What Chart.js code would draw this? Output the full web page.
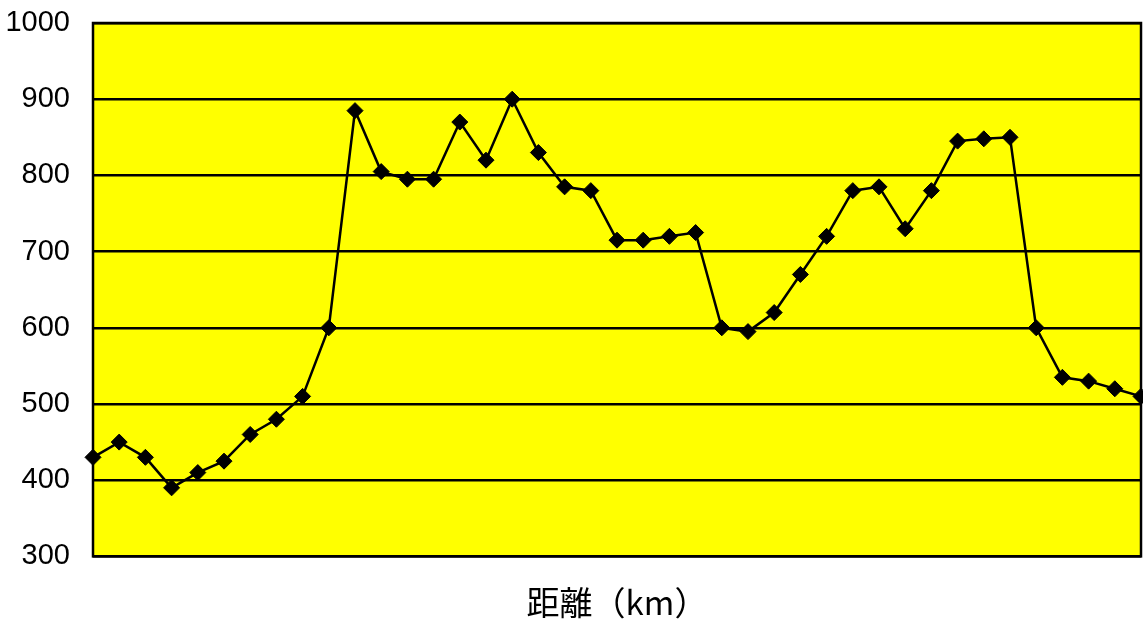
<!DOCTYPE html>
<html lang="ja">
<head>
<meta charset="UTF-8">
<title>距離（km）</title>
<script src="https://cdn.jsdelivr.net/npm/chart.js"></script>
<style>
  html, body { margin: 0; padding: 0; background: #fff; }
  #wrap { width: 1143px; height: 622px; }
</style>
</head>
<body>
<div id="wrap"><canvas id="elevChart" width="1143" height="622"></canvas></div>
<script>
// elevation profile, one value per point
const distLabels = ['0','1','2','3','4','5','6','7','8','9','10','11','12','13','14','15','16','17','18','19','20',
  '21','22','23','24','25','26','27','28','29','30','31','32','33','34','35','36','37','38','39','40'];
const elevation = [430, 450, 430, 390, 410, 425, 460, 480, 510, 600,
  885, 805, 795, 795, 870, 820, 900, 830, 785, 780,
  715, 715, 720, 725, 600, 595, 620, 670, 720, 780,
  785, 730, 780, 845, 848, 850, 600, 535, 530, 520, 510];
const yTicks = [300, 400, 500, 600, 700, 800, 900, 1000];

// yellow plot area + black frame
const plotFrame = {
  id: 'plotFrame',
  beforeDraw(chart) {
    const a = chart.chartArea, ctx = chart.ctx;
    ctx.save();
    ctx.fillStyle = '#ffff00';
    ctx.fillRect(a.left, a.top, a.right - a.left, a.bottom - a.top);
    ctx.restore();
  },
  afterDatasetsDraw(chart) {
    const a = chart.chartArea, ctx = chart.ctx;
    ctx.save();
    ctx.strokeStyle = '#000';
    ctx.lineWidth = 2.5;
    ctx.strokeRect(a.left, a.top, a.right - a.left, a.bottom - a.top);
    ctx.restore();
  }
};

new Chart(document.getElementById('elevChart'), {
  type: 'line',
  data: {
    labels: distLabels,
    datasets: [{
      data: elevation,
      borderColor: '#000',
      borderWidth: 2.5,
      backgroundColor: '#000',
      pointStyle: 'rectRot',
      pointRadius: 8,
      pointBorderWidth: 1,
      tension: 0,
      clip: false
    }]
  },
  options: {
    responsive: false,
    animation: false,
    layout: { autoPadding: false, padding: { top: 23, right: 2, left: 0, bottom: 0 } },
    plugins: { legend: { display: false }, tooltip: { enabled: false } },
    scales: {
      x: {
        offset: false,
        grid: { display: false, drawTicks: false },
        border: { display: false },
        ticks: { display: false },
        title: {
          display: true,
          text: '距離（km）',
          color: '#000',
          font: { family: "'Noto Sans CJK JP', sans-serif", size: 33 },
          padding: { top: 26, bottom: 0 }
        }
      },
      y: {
        min: 300,
        max: 1000,
        afterBuildTicks(scale) { scale.ticks = yTicks.map(v => ({ value: v })); },
        afterFit(scale) {
          scale.width = 93;
          scale.paddingTop = 0;
          scale.paddingBottom = 0;
        },
        grid: { color: '#000', lineWidth: 2.5, drawTicks: false },
        border: { display: false },
        ticks: {
          color: '#000',
          padding: 23,
          callback: v => String(v),
          font: { family: "'Liberation Sans', Arial, sans-serif", size: 29 }
        }
      }
    }
  },
  plugins: [plotFrame]
});
</script>
</body>
</html>
